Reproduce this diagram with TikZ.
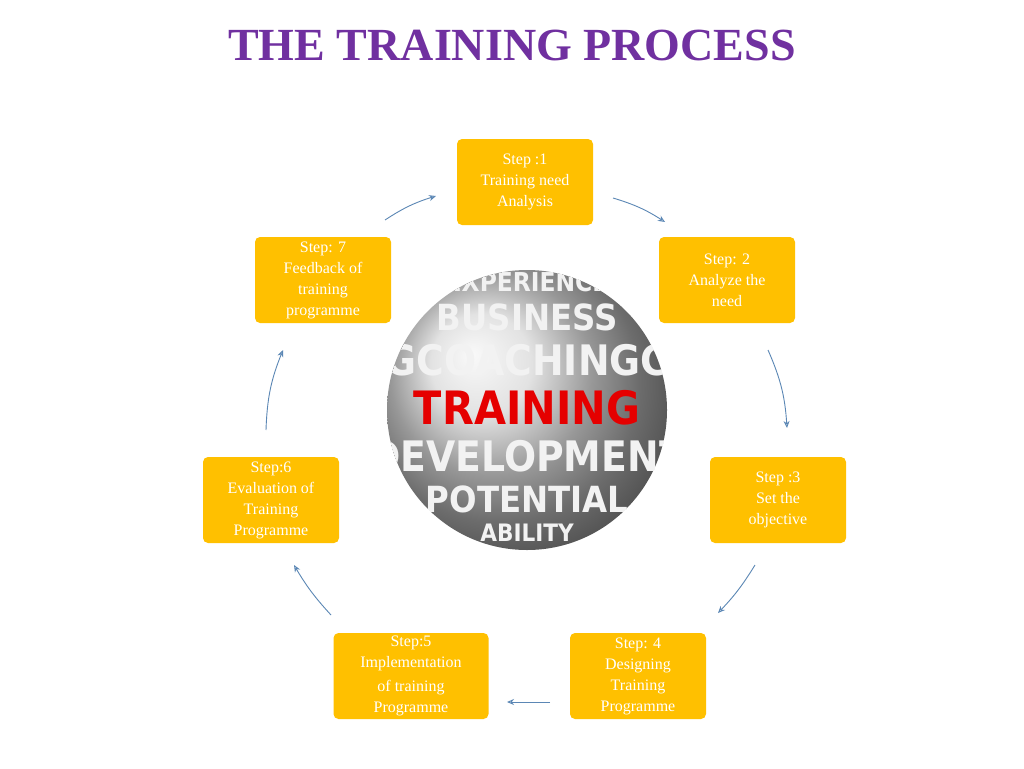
\documentclass[tikz,border=0pt]{standalone}
\usepackage{fontspec}
\setmainfont{Liberation Serif}
\newfontfamily\titlefont{Liberation Serif}
\newfontfamily\ballfont{DejaVu Sans Condensed}
\usetikzlibrary{arrows.meta}
\begin{document}
\begin{tikzpicture}[x=1pt,y=-1pt,
  stepbox/.style={fill=stepor,text=white,rounded corners=5pt,minimum width=136pt,minimum height=86pt,align=center,font=\fontsize{16}{21}\selectfont,inner sep=2pt},
  flow/.style={-{Stealth[length=7pt,width=6pt,open]},draw=arrowblue,line width=0.9pt},
  bw/.style={text=gray!10,inner sep=0pt}]
\definecolor{stepor}{HTML}{FFC000}
\definecolor{arrowblue}{HTML}{5B87B5}
\definecolor{titlepurple}{HTML}{7030A0}
\useasboundingbox (0,0) rectangle (1024,768);
\fill[white] (0,0) rectangle (1024,768);
\node (title) at (512,45) {\titlefont\bfseries\fontsize{46}{50}\selectfont\color{titlepurple}THE TRAINING PROCESS};
% sphere
\shade[ball color=gray!30] (527,410) circle (140);
\begin{scope}
\clip (527,410) circle (140);
\node[bw,font=\ballfont\bfseries\fontsize{26}{26}\selectfont] (w0) at (527,282) {EXPERIENCE};
\node[bw,font=\ballfont\bfseries\fontsize{36}{36}\selectfont] (w1) at (527,317) {BUSINESS};
\node[bw,font=\ballfont\bfseries\fontsize{42}{42}\selectfont] (w2) at (527,360) {GCOACHINGC};
\node[font=\ballfont\bfseries\fontsize{46}{46}\selectfont,text=red!90!black,inner sep=0pt] (w3) at (527,408) {TRAINING};
\node[bw,font=\ballfont\bfseries\fontsize{42}{42}\selectfont] (w4) at (527,456) {DEVELOPMENT};
\node[bw,font=\ballfont\bfseries\fontsize{36}{36}\selectfont] (w5) at (527,499) {POTENTIAL};
\node[bw,font=\ballfont\bfseries\fontsize{24}{24}\selectfont] (w6) at (527,533) {ABILITY};
\end{scope}
% steps
\node[stepbox] (s1) at (525,182) {Step :1\\Training need\\Analysis};
\node[stepbox] (s2) at (727,280) {Step: 2\\Analyze the\\need};
\node[stepbox] (s3) at (778,500) {Step :3\\Set the\\objective};
\node[stepbox] (s4) at (638,676) {Step: 4\\Designing\\Training\\Programme};
\node[stepbox,minimum width=155pt] (s5) at (411,676) {Step:5\\Implementation\\[3pt]of training\\Programme};
\node[stepbox] (s6) at (271,500) {Step:6\\Evaluation of\\Training\\Programme};
\node[stepbox] (s7) at (323,280) {Step: 7\\Feedback of\\training\\programme};
% arrows
\coordinate (a1) at (613,198); \coordinate (b1) at (665,222);
\coordinate (a2) at (768,350); \coordinate (b2) at (787,428);
\coordinate (a3) at (755,565); \coordinate (b3) at (718,613);
\coordinate (a4) at (550,702); \coordinate (b4) at (507,702);
\coordinate (a5) at (331,615); \coordinate (b5) at (294,565);
\coordinate (a6) at (266,430); \coordinate (b6) at (283,350);
\coordinate (a7) at (385,220); \coordinate (b7) at (436,196);
\draw[flow] (a1) to[bend left=8] (b1);
\draw[flow] (a2) to[bend left=10] (b2);
\draw[flow] (a3) to[bend left=6] (b3);
\draw[flow] (a4) -- (b4);
\draw[flow] (a5) to[bend left=6] (b5);
\draw[flow] (a6) to[bend left=10] (b6);
\draw[flow] (a7) to[bend left=8] (b7);
\end{tikzpicture}
\end{document}
